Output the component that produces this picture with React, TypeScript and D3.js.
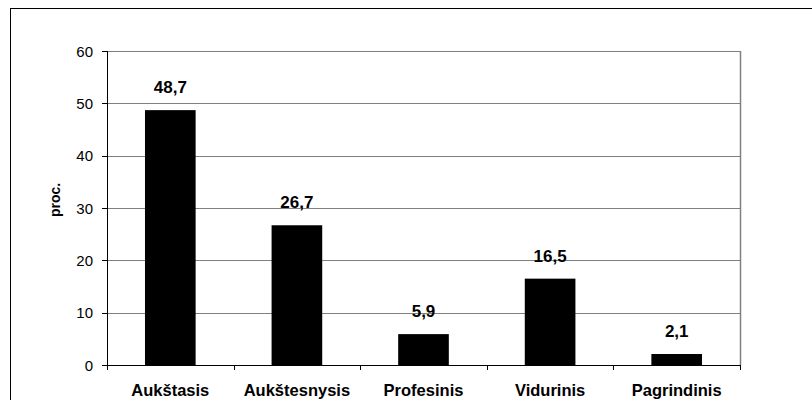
import React from "react";
import * as d3 from "d3";

const categories = ["Aukštasis", "Aukštesnysis", "Profesinis", "Vidurinis", "Pagrindinis"];
const values = [48.7, 26.7, 5.9, 16.5, 2.1];
const valueLabels = ["48,7", "26,7", "5,9", "16,5", "2,1"];
const yTicks = [0, 10, 20, 30, 40, 50, 60];
const yTitle = "proc.";

const W = 812, H = 400;
const left = 107, right = 740, top = 51, bottom = 365;
const font = "Liberation Sans, Arial, sans-serif";

export default function App() {
  const x = d3.scaleBand<string>().domain(categories).range([left, right]).paddingInner(0).paddingOuter(0);
  const y = d3.scaleLinear().domain([0, 60]).range([bottom, top]);
  const bw = x.bandwidth() * 0.4;
  const bounds = categories.map((c) => x(c)!).concat([right]);
  return (
    <svg width={W} height={H} style={{ position: "absolute", left: 0, top: 0, background: "#fff" }}>
      <rect x={10.5} y={8.5} width={W + 10} height={H + 10} fill="#fff" stroke="#000" strokeWidth={1} />
      {yTicks.map((t) => (
        <g key={t}>
          {t > 0 && (
            <line x1={left} x2={right} y1={Math.round(y(t)) + 0.5} y2={Math.round(y(t)) + 0.5} stroke="#808080" strokeWidth={1} />
          )}
          <line x1={left - 5} x2={left} y1={Math.round(y(t)) + 0.5} y2={Math.round(y(t)) + 0.5} stroke="#000" />
          <text x={left - 14} y={y(t) + 5.5} textAnchor="end" fontFamily={font} fontSize={15} fill="#000">
            {t}
          </text>
        </g>
      ))}
      <line x1={right + 0.5} x2={right + 0.5} y1={top} y2={bottom} stroke="#808080" strokeWidth={1.5} />
      {categories.map((c, i) => {
        const cx = x(c)! + x.bandwidth() / 2;
        return (
          <g key={c}>
            <rect x={cx - bw / 2} y={y(values[i])} width={bw} height={bottom - y(values[i])} fill="#000" />
            <text x={cx} y={y(values[i]) - 17} textAnchor="middle" fontFamily={font} fontWeight="bold" fontSize={17} fill="#000">
              {valueLabels[i]}
            </text>
            <text x={cx} y={396} textAnchor="middle" fontFamily={font} fontWeight="bold" fontSize={16.5} fill="#000">
              {c}
            </text>
          </g>
        );
      })}
      {bounds.map((b, i) => (
        <line key={i} x1={Math.round(b) + 0.5} x2={Math.round(b) + 0.5} y1={bottom} y2={bottom + 5} stroke="#000" />
      ))}
      <line x1={left + 0.5} x2={left + 0.5} y1={top} y2={bottom} stroke="#000" />
      <line x1={left} x2={right} y1={bottom + 0.5} y2={bottom + 0.5} stroke="#000" />
      <text
        transform={`translate(60, 200) rotate(-90)`}
        textAnchor="middle"
        fontFamily={font}
        fontWeight="bold"
        fontSize={14}
        fill="#000"
      >
        {yTitle}
      </text>
    </svg>
  );
}
